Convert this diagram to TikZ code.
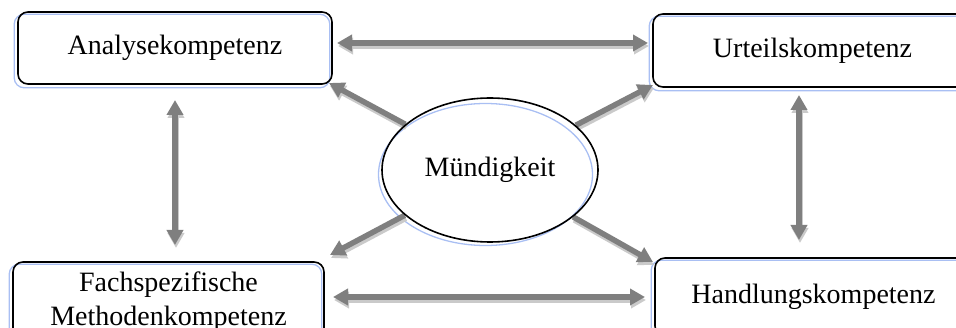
\documentclass[tikz,border=0pt]{standalone}
\usepackage{fontspec}
\setmainfont{Liberation Serif}
\usetikzlibrary{arrows.meta,shapes.geometric,backgrounds}
\definecolor{arrgray}{HTML}{7F7F7F}
\definecolor{shgray}{HTML}{CACACA}
\definecolor{shblue}{HTML}{A9BFF3}
\newcommand\shadedarrow[3]{%
  \draw[arrsh,#1] #2 -- #3;
  \draw[arr,#1] #2 -- #3;}
\begin{document}
\begin{tikzpicture}[x=1pt,y=-1pt,
  box/.style={draw=black, line width=1.6pt, rounded corners=10pt, inner sep=0pt,
    align=center, font=\fontsize{28}{34}\selectfont},
  oval/.style={ellipse, draw=black, line width=1.6pt, inner sep=0pt,
    minimum width=216pt, minimum height=144pt, font=\fontsize{28}{34}\selectfont},
  blueshade/.style={draw=shblue, line width=1.3pt},
  arr/.style={draw=arrgray, line width=5.5pt, -{Triangle[length=15pt,width=16pt]}},
  arrsh/.style={draw=shgray, line width=5.5pt, -{Triangle[length=15pt,width=16pt]},
    transform canvas={xshift=1pt,yshift=-3pt}},
  both/.style={{Triangle[length=15pt,width=16pt]}-{Triangle[length=15pt,width=16pt]}},
  one/.style={}]
\useasboundingbox (0,0) rectangle (956,328);
\clip (0,0) rectangle (956,328);

\node[box, minimum width=314pt, minimum height=72pt] (A) at (175,48) {Analysekompetenz};
\node[box, minimum width=319pt, minimum height=73pt] (U) at (812.5,50.5) {Urteilskompetenz};
\node[box, minimum width=311pt, minimum height=80pt] (F) at (168.5,302) {Fachspezifische\\Methodenkompetenz};
\node[box, minimum width=317pt, minimum height=78pt] (H) at (813.5,297) {Handlungskompetenz};
\node[oval] (M) at (490,170) {Mündigkeit};

\coordinate (a1) at (337,43);  \coordinate (u1) at (648,43);
\coordinate (f1) at (333,297); \coordinate (h1) at (645,297);
\coordinate (a2) at (175,100); \coordinate (f2) at (175,245);
\coordinate (u2) at (799,95);  \coordinate (h2) at (799,240);
\coordinate (a3) at (329,83);  \coordinate (u3) at (653,85);
\coordinate (f3) at (330,255); \coordinate (h3) at (653,262);

\begin{pgfonlayer}{background}
  \draw[blueshade, rounded corners=10pt] ([shift={(-3pt,-3pt)}]A.north west) rectangle ([shift={(-3pt,-3pt)}]A.south east);
  \draw[blueshade, rounded corners=10pt] ([shift={(-3pt,-3pt)}]U.north west) rectangle ([shift={(-3pt,-3pt)}]U.south east);
  \draw[blueshade, rounded corners=10pt] ([shift={(-3pt,-3pt)}]F.north west) rectangle ([shift={(-3pt,-3pt)}]F.south east);
  \draw[blueshade, rounded corners=10pt] ([shift={(-3pt,-3pt)}]H.north west) rectangle ([shift={(-3pt,-3pt)}]H.south east);
  \draw[blueshade] ([shift={(-4.5pt,-4.5pt)}]M.center) ellipse [x radius=107, y radius=71];

  \shadedarrow{both}{(a1)}{(u1)}
  \shadedarrow{both}{(f1)}{(h1)}
  \shadedarrow{both}{(a2)}{(f2)}
  \shadedarrow{both}{(u2)}{(h2)}
  \shadedarrow{one}{(M)}{(a3)}
  \shadedarrow{one}{(M)}{(u3)}
  \shadedarrow{one}{(M)}{(f3)}
  \shadedarrow{one}{(M)}{(h3)}
\end{pgfonlayer}
\end{tikzpicture}
\end{document}
